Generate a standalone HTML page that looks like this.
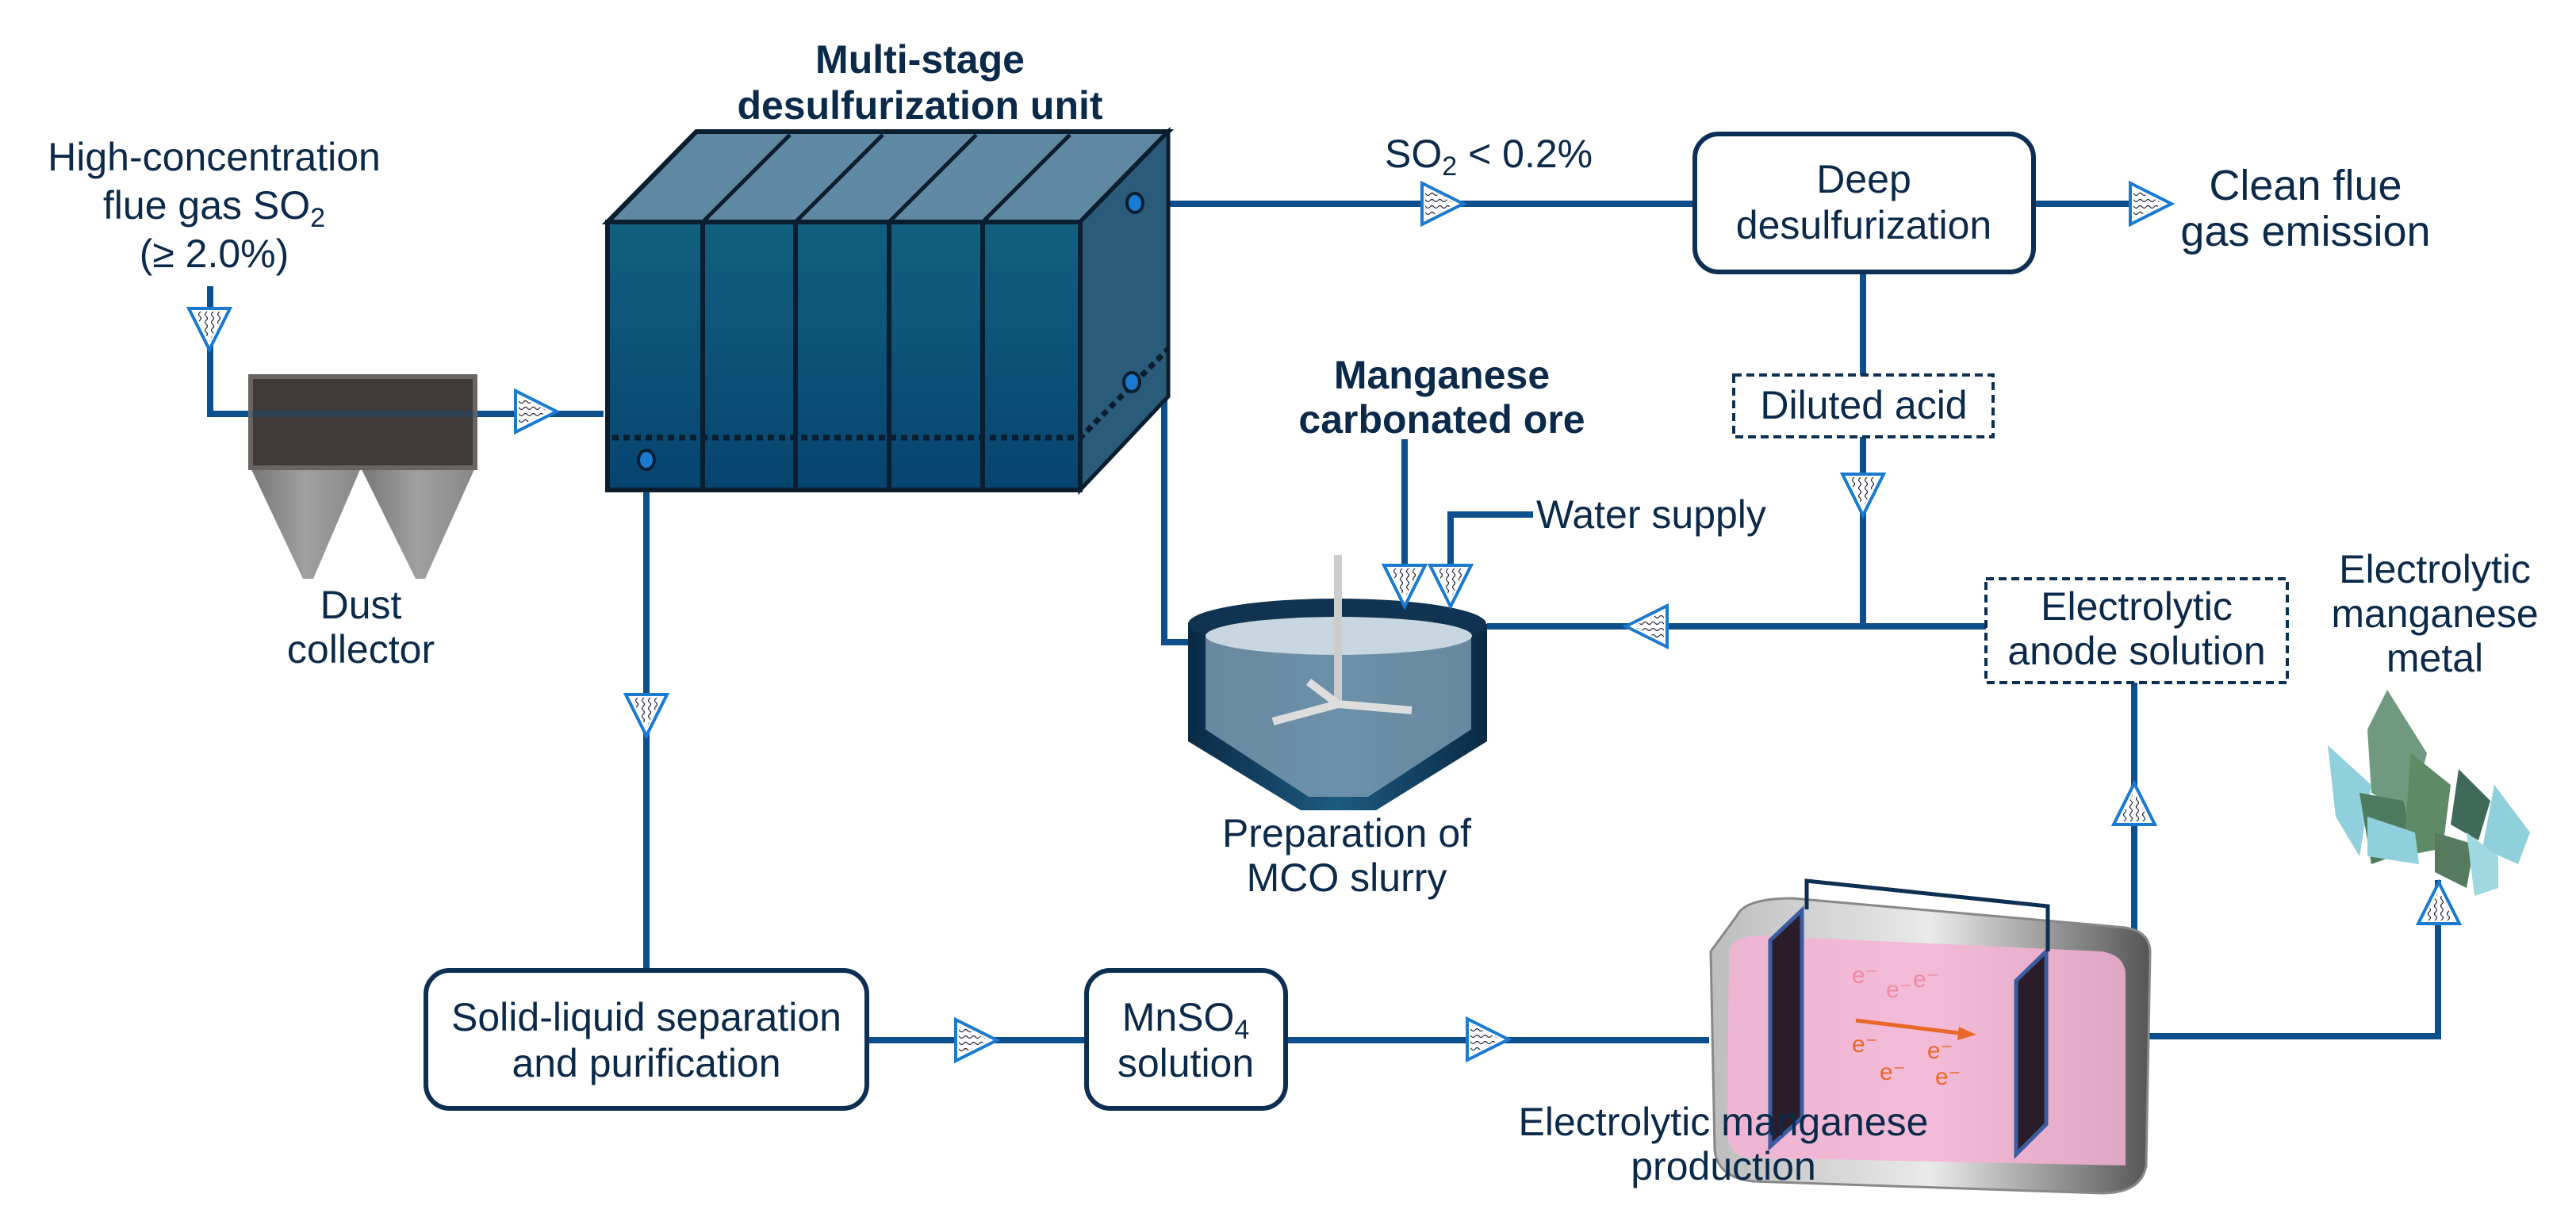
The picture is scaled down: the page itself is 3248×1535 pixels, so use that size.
<!DOCTYPE html>
<html><head><meta charset="utf-8"><style>html,body{margin:0;padding:0;background:#fff}svg{display:block}text{font-family:"Liberation Sans",Arial,sans-serif;fill:#0b2a4a}</style></head><body>
<svg width="3248" height="1535" viewBox="0 0 3248 1535" xmlns="http://www.w3.org/2000/svg">
<defs>
<pattern id="wv" width="10" height="8" patternUnits="userSpaceOnUse"><path d="M0 4 Q2.5 1 5 4 T10 4" fill="none" stroke="#223" stroke-width="1.2"/></pattern>
<g id="ar"><polygon points="0,-26 52,0 0,26" fill="#fff" stroke="#1a7ad0" stroke-width="4"/><polygon points="4,-19 42,0 4,19" fill="url(#wv)"/></g>
<linearGradient id="front" x1="0" y1="0" x2="0" y2="1"><stop offset="0" stop-color="#11607f"/><stop offset="1" stop-color="#074470"/></linearGradient>
<linearGradient id="cone" x1="0" y1="0" x2="1" y2="0"><stop offset="0" stop-color="#777"/><stop offset="0.5" stop-color="#a0a0a0"/><stop offset="1" stop-color="#888"/></linearGradient>
<linearGradient id="tank" x1="0" y1="0" x2="1" y2="0"><stop offset="0" stop-color="#0a2a45"/><stop offset="0.5" stop-color="#1d5a80"/><stop offset="1" stop-color="#0a2a45"/></linearGradient>
<linearGradient id="etank" x1="0" y1="0" x2="1" y2="0"><stop offset="0" stop-color="#bdbdbd"/><stop offset="0.5" stop-color="#eaeaea"/><stop offset="1" stop-color="#555"/></linearGradient>
</defs>
<g stroke-linecap="butt" fill="none">
<g stroke="#0d4f8c" stroke-width="8">
<polyline points="265,361 265,522 761,522"/>
<line x1="1431" y1="257" x2="2137" y2="257"/>
<line x1="2564" y1="257" x2="2690" y2="257"/>
<polyline points="1427,482 1468,482 1468,810 1510,810"/>
<line x1="815" y1="580" x2="815" y2="1224"/>
<line x1="1093" y1="1312" x2="1370" y2="1312"/>
<line x1="1621" y1="1312" x2="2155" y2="1312"/>
<line x1="2349" y1="343" x2="2349" y2="473"/>
<line x1="2349" y1="551" x2="2349" y2="790"/>
<line x1="2504" y1="790" x2="1875" y2="790"/>
<line x1="2691" y1="861" x2="2691" y2="1180"/>
<polyline points="2701,1307 3074,1307 3074,1110"/>
<line x1="1771" y1="554" x2="1771" y2="720"/>
<polyline points="1933,649 1829,649 1829,720"/>
</g>
</g>
<polygon points="766,280 878,166 1473,166 1362,280" fill="#5f88a3" stroke="#0a1e30" stroke-width="6"/>
<g stroke="#0a1e30" stroke-width="5"><line x1="886" y1="280" x2="996" y2="170"/><line x1="1003" y1="280" x2="1113" y2="170"/><line x1="1121" y1="280" x2="1231" y2="170"/><line x1="1239" y1="280" x2="1349" y2="170"/></g>
<polygon points="1362,280 1473,166 1473,500 1362,618" fill="#2a5b78" stroke="#0a1e30" stroke-width="5"/>
<rect x="766" y="280" width="596" height="338" fill="url(#front)" stroke="#0a1e30" stroke-width="6"/>
<g stroke="#0a1e30" stroke-width="6"><line x1="886" y1="280" x2="886" y2="618"/><line x1="1003" y1="280" x2="1003" y2="618"/><line x1="1121" y1="280" x2="1121" y2="618"/><line x1="1239" y1="280" x2="1239" y2="618"/></g>
<polyline points="772,552 1362,552 1473,440" fill="none" stroke="#0a1e30" stroke-width="7" stroke-dasharray="8,6"/>
<g fill="#1a7ad0" stroke="#0a1e30" stroke-width="4"><ellipse cx="1431" cy="256" rx="10" ry="12"/><ellipse cx="1427" cy="482" rx="10" ry="12"/><ellipse cx="815" cy="580" rx="10" ry="12"/></g>
<path d="M316,590 L455,590 L395,730 L382,730 Z" fill="url(#cone)"/>
<path d="M455,590 L599,590 L536,730 L524,730 Z" fill="url(#cone)"/>
<rect x="316" y="475" width="283" height="115" fill="#3f3a38" stroke="#6a6562" stroke-width="6"/>
<line x1="316" y1="522" x2="599" y2="522" stroke="#0d4f8c" stroke-width="8" opacity="0.35"/>
<g fill="#fff" stroke="#0d2f52" stroke-width="6">
<rect x="2137" y="169" width="427" height="174" rx="30"/>
<rect x="537" y="1224" width="556" height="174" rx="30"/>
<rect x="1370" y="1224" width="251" height="174" rx="30"/>
</g>
<g fill="#fff" stroke="#0d2f52" stroke-width="4" stroke-dasharray="10,6">
<rect x="2186" y="473" width="327" height="78"/>
<rect x="2504" y="730" width="380" height="131"/>
</g>
<!-- MCO tank -->
<path d="M1498,787 L1498,935 L1640,1022 L1735,1022 L1875,935 L1875,787 Z" fill="url(#tank)"/>
<ellipse cx="1686" cy="787" rx="188" ry="32" fill="#0f3350"/>
<path d="M1520,800 L1520,920 L1650,1005 L1725,1005 L1855,920 L1855,800 Z" fill="#7f9fb4" opacity="0.8"/>
<ellipse cx="1688" cy="802" rx="168" ry="24" fill="#c8d6df"/>
<rect x="1682" y="700" width="10" height="190" fill="#ccc"/>
<path d="M1687,888 L1605,910 M1687,888 L1780,896 M1687,888 L1650,860" stroke="#ddd" stroke-width="10"/>
<!-- electrolysis tank -->
<path d="M2190,1155 Q2200,1133 2260,1133 L2680,1170 Q2710,1175 2711,1200 L2706,1470 Q2700,1505 2650,1505 L2210,1490 Q2165,1485 2162,1450 L2157,1200 Z" fill="url(#etank)" stroke="#888" stroke-width="3"/>
<path d="M2180,1200 Q2185,1180 2220,1180 L2650,1200 Q2680,1205 2680,1230 L2680,1470 L2200,1460 Q2180,1455 2178,1430 Z" fill="#f6b3d6" opacity="0.85"/>
<polygon points="2232,1186 2272,1148 2272,1410 2232,1446" fill="#2a1c28" stroke="#3b5ca0" stroke-width="5"/>
<polygon points="2542,1237 2580,1200 2580,1418 2542,1456" fill="#2a1c28" stroke="#3b5ca0" stroke-width="5"/>
<polyline points="2278,1147 2278,1111 2582,1143 2582,1200" fill="none" stroke="#0d2f52" stroke-width="5"/>
<line x1="2340" y1="1287" x2="2470" y2="1303" stroke="#e8682a" stroke-width="5"/><polygon points="2470,1295 2492,1305 2468,1312" fill="#e8682a"/>
<g font-size="30"><text x="2335" y="1240" style="fill:#f08aa0">e⁻</text><text x="2378" y="1258" style="fill:#f08aa0">e⁻</text><text x="2412" y="1245" style="fill:#f08aa0">e⁻</text><text x="2335" y="1327" style="fill:#e8682a">e⁻</text><text x="2430" y="1335" style="fill:#e8682a">e⁻</text><text x="2370" y="1362" style="fill:#e8682a">e⁻</text><text x="2440" y="1368" style="fill:#e8682a">e⁻</text></g>
<!-- manganese metal -->
<g stroke="none"><polygon points="3010,870 3060,950 3040,1030 2990,1000 2985,920" fill="#6f9a80"/><polygon points="2935,940 2990,990 2975,1080 2945,1030" fill="#8fd0dc"/><polygon points="2975,1000 3030,1010 3045,1070 2990,1090" fill="#4e7a60"/><polygon points="3040,950 3090,990 3080,1070 3030,1080" fill="#5f8a66"/><polygon points="3100,970 3140,1010 3125,1060 3090,1040" fill="#3f6a5a"/><polygon points="3145,990 3190,1050 3175,1090 3130,1070" fill="#8fd0dc"/><polygon points="3070,1050 3120,1065 3110,1120 3070,1100" fill="#557a5e"/><polygon points="3110,1050 3150,1080 3150,1120 3120,1130" fill="#9fd8e0"/><polygon points="2985,1030 3045,1050 3050,1090 2985,1080" fill="#8fd0dc"/></g>
<use href="#ar" transform="translate(264,389) rotate(90)"/>
<use href="#ar" transform="translate(650,519)"/>
<use href="#ar" transform="translate(1793,257)"/>
<use href="#ar" transform="translate(2686,257)"/>
<use href="#ar" transform="translate(2349,598) rotate(90)"/>
<use href="#ar" transform="translate(815,876) rotate(90)"/>
<use href="#ar" transform="translate(1205,1312)"/>
<use href="#ar" transform="translate(1850,1311)"/>
<use href="#ar" transform="translate(2102,790) rotate(180)"/>
<use href="#ar" transform="translate(2691,1040) rotate(-90)"/>
<use href="#ar" transform="translate(3075,1165) rotate(-90)"/>
<use href="#ar" transform="translate(1771,713) rotate(90)"/>
<use href="#ar" transform="translate(1829,713) rotate(90)"/>
<g font-size="50" text-anchor="middle">
<text x="1160" y="92" font-weight="bold">Multi-stage</text>
<text x="1160" y="150" font-weight="bold">desulfurization unit</text>
<text x="270" y="215">High-concentration</text>
<text x="270" y="276">flue gas SO<tspan font-size="34" dy="10">2</tspan></text>
<text x="270" y="337">(≥ 2.0%)</text>
<text x="455" y="780">Dust</text>
<text x="455" y="836">collector</text>
<text x="2350" y="243">Deep</text>
<text x="2350" y="301">desulfurization</text>
<text x="2907" y="252" font-size="54">Clean flue</text>
<text x="2907" y="310" font-size="54">gas emission</text>
<text x="2350" y="528">Diluted acid</text>
<text x="2694" y="782">Electrolytic</text>
<text x="2694" y="838">anode  solution</text>
<text x="3070" y="735">Electrolytic</text>
<text x="3070" y="791">manganese</text>
<text x="3070" y="847">metal</text>
<text x="1818" y="490" font-weight="bold">Manganese</text>
<text x="1818" y="546" font-weight="bold">carbonated ore</text>
<text x="1698" y="1068">Preparation of</text>
<text x="1698" y="1124">MCO slurry</text>
<text x="815" y="1300">Solid-liquid separation</text>
<text x="815" y="1358">and purification</text>
<text x="1495" y="1300">MnSO<tspan font-size="34" dy="10">4</tspan></text>
<text x="1495" y="1358">solution</text>
<text x="2173" y="1432">Electrolytic manganese</text>
<text x="2173" y="1488">production</text>
</g>
<g font-size="50"><text x="1746" y="211">SO<tspan font-size="34" dy="10">2</tspan><tspan dy="-10"> &lt; 0.2%</tspan></text>
<text x="1937" y="666">Water supply</text></g>
</svg>
</body></html>
